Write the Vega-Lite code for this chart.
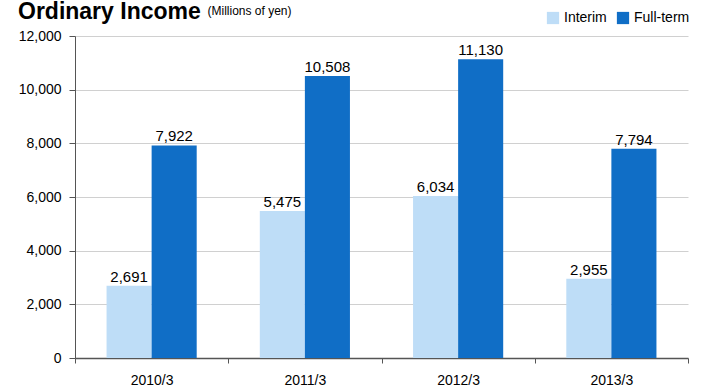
{
  "$schema": "https://vega.github.io/schema/vega-lite/v6.json",
  "width": 613,
  "height": 322,
  "autosize": {"type": "none"},
  "padding": {"left": 75, "top": 36, "right": 14, "bottom": 32},
  "background": "white",
  "config": {
    "font": "Liberation Sans",
    "view": {"stroke": null},
    "axis": {"labelFont": "Liberation Sans", "labelColor": "#000", "labelFontSize": 14}
  },
  "title": {
    "text": "Ordinary Income",
    "anchor": "start",
    "frame": "group",
    "orient": "top",
    "baseline": "alphabetic",
    "fontSize": 23,
    "fontWeight": "bold",
    "font": "Liberation Sans",
    "color": "#000",
    "dx": -57,
    "dy": 38,
    "offset": 0
  },
  "data": {
    "values": [
      {"year": "2010/3", "type": "Interim", "value": 2691},
      {"year": "2010/3", "type": "Full-term", "value": 7922},
      {"year": "2011/3", "type": "Interim", "value": 5475},
      {"year": "2011/3", "type": "Full-term", "value": 10508},
      {"year": "2012/3", "type": "Interim", "value": 6034},
      {"year": "2012/3", "type": "Full-term", "value": 11130},
      {"year": "2013/3", "type": "Interim", "value": 2955},
      {"year": "2013/3", "type": "Full-term", "value": 7794}
    ]
  },
  "encoding": {
    "x": {
      "field": "year",
      "type": "nominal",
      "scale": {"paddingInner": 0, "paddingOuter": 0},
      "axis": {
        "title": null,
        "labelAngle": 0,
        "labelPadding": 10,
        "tickBand": "extent",
        "tickSize": 5,
        "tickColor": "#555",
        "domainColor": "#555",
        "domainWidth": 1.5,
        "grid": false
      }
    },
    "xOffset": {
      "field": "type",
      "type": "nominal",
      "sort": ["Interim", "Full-term"],
      "scale": {"paddingInner": 0, "paddingOuter": 0.7}
    },
    "y": {
      "field": "value",
      "type": "quantitative",
      "scale": {"domain": [0, 12000], "nice": false},
      "axis": {
        "values": [0, 2000, 4000, 6000, 8000, 10000, 12000],
        "format": ",.0f",
        "title": "(Millions of yen)",
        "titleAngle": 0,
        "titleX": 132,
        "titleY": -26,
        "titleAlign": "left",
        "titleBaseline": "middle",
        "titleFontSize": 12,
        "titleFontWeight": "normal",
        "titleFont": "Liberation Sans",
        "titleColor": "#000",
        "gridColor": "#d0d0d0",
        "gridWidth": 1,
        "domainColor": "#555",
        "tickColor": "#555",
        "tickSize": 6,
        "labelPadding": 8
      }
    }
  },
  "layer": [
    {
      "mark": {"type": "bar"},
      "encoding": {
        "color": {
          "field": "type",
          "type": "nominal",
          "sort": ["Interim", "Full-term"],
          "scale": {"domain": ["Interim", "Full-term"], "range": ["#BEDDF7", "#106EC6"]},
          "legend": {
            "title": null,
            "orient": "none",
            "direction": "horizontal",
            "legendX": 471,
            "legendY": -25,
            "symbolType": "square",
            "symbolSize": 150,
            "symbolStrokeWidth": 0,
            "labelFontSize": 14,
            "labelColor": "#000",
            "labelFont": "Liberation Sans",
            "columnPadding": 9,
            "labelOffset": 4
          }
        }
      }
    },
    {
      "mark": {"type": "text", "baseline": "bottom", "dy": -1, "fontSize": 15, "color": "#000"},
      "encoding": {
        "text": {"field": "value", "type": "quantitative", "format": ","}
      }
    }
  ]
}
